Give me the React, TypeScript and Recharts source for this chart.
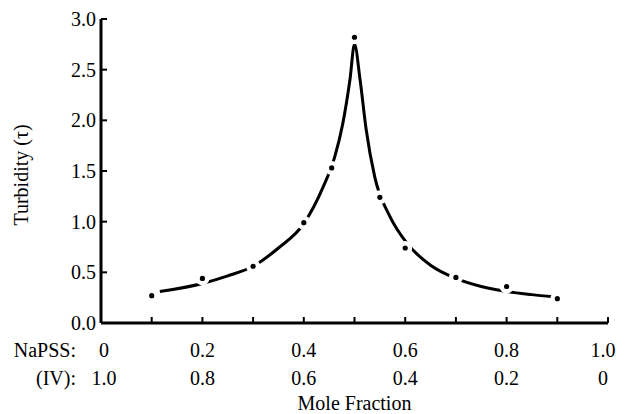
import React from 'react';
import { ComposedChart, Line, Scatter, XAxis, YAxis, Label } from 'recharts';

// Mole fraction axis
const xTicks = [0, 0.1, 0.2, 0.3, 0.4, 0.5, 0.6, 0.7, 0.8, 0.9, 1.0];
const napssLabels = ['0', '0.2', '0.4', '0.6', '0.8', '1.0'];
const ivLabels = ['1.0', '0.8', '0.6', '0.4', '0.2', '0'];

// Turbidity axis
const yTicks = [0, 0.5, 1.0, 1.5, 2.0, 2.5, 3.0];
const yTickLabels = ['0.0', '0.5', '1.0', '1.5', '2.0', '2.5', '3.0'];

// Measured points
const pointX = [0.1, 0.2, 0.3, 0.4, 0.455, 0.5, 0.55, 0.6, 0.7, 0.8, 0.9];
const pointY = [0.27, 0.44, 0.56, 0.99, 1.53, 2.82, 1.24, 0.74, 0.45, 0.36, 0.24];

// Hand-drawn curve
const curveX = [0.116, 0.2, 0.25, 0.3, 0.35, 0.4, 0.438, 0.461, 0.477, 0.491, 0.5, 0.511, 0.523, 0.54, 0.57, 0.603, 0.65, 0.7, 0.75, 0.8, 0.85, 0.892];
const curveY = [0.31, 0.39, 0.465, 0.56, 0.74, 0.98, 1.34, 1.64, 1.97, 2.4, 2.75, 2.4, 1.91, 1.44, 1.05, 0.79, 0.57, 0.44, 0.36, 0.31, 0.28, 0.26];

const pointData = pointX.map((x, i) => ({ x, y: pointY[i] }));
const curveData = curveX.map((x, i) => ({ x, y: curveY[i] }));

const FONT = '"Liberation Serif", "Times New Roman", serif';
const FS = 20;

const YTick = (props: any) => {
  const { x, y, payload } = props;
  const idx = yTicks.indexOf(payload.value);
  return (
    <g>
      <line x1={x} x2={x + 6} y1={y} y2={y} stroke="#000" strokeWidth={2} />
      <text x={x - 5} y={y} dy={7} textAnchor="end" fontFamily={FONT} fontSize={FS} fill="#000">
        {yTickLabels[idx]}
      </text>
    </g>
  );
};

const XTick = (props: any) => {
  const { x, y, payload } = props;
  const i = Math.round(payload.value * 10);
  const shift = i === 0 ? 3 : i === 10 ? -5 : 0;
  return (
    <g>
      <line x1={x} x2={x} y1={y} y2={y - 6} stroke="#000" strokeWidth={2} />
      {i % 2 === 0 && (
        <text x={x + shift} y={y + 34} textAnchor="middle" fontFamily={FONT} fontSize={FS} fill="#000">
          {napssLabels[i / 2]}
        </text>
      )}
      {i % 2 === 0 && (
        <text x={x + shift} y={y + 62} textAnchor="middle" fontFamily={FONT} fontSize={FS} fill="#000">
          {ivLabels[i / 2]}
        </text>
      )}
      {i === 0 && (
        <text x={x - 25} y={y + 34} textAnchor="end" fontFamily={FONT} fontSize={FS} fill="#000">
          NaPSS:
        </text>
      )}
      {i === 0 && (
        <text x={x - 25} y={y + 62} textAnchor="end" fontFamily={FONT} fontSize={FS} fill="#000">
          (IV):
        </text>
      )}
    </g>
  );
};

const PointShape = (props: any) => {
  const { cx, cy } = props;
  return (
    <g>
      <circle cx={cx} cy={cy} r={7} fill="#fff" />
      <circle cx={cx} cy={cy} r={2.6} fill="#000" />
    </g>
  );
};

export default function App() {
  return (
    <div style={{ position: 'absolute', left: 0, top: 0, width: 625, height: 414, background: '#fff' }}>
      <ComposedChart width={625} height={414} margin={{ top: 19, right: 17, left: 0, bottom: 0 }}>
        <XAxis
          type="number"
          dataKey="x"
          domain={[0, 1]}
          ticks={xTicks}
          height={91}
          tickSize={0}
          tickMargin={0}
          tick={<XTick />}
          axisLine={{ stroke: '#000', strokeWidth: 3 }}
          tickLine={false}
          allowDataOverflow
        >
          <Label
            content={(p: any) => {
              const vb = p.viewBox;
              return (
                <text x={vb.x + vb.width / 2} y={410} textAnchor="middle" fontFamily={FONT} fontSize={FS} fill="#000">
                  Mole Fraction
                </text>
              );
            }}
          />
        </XAxis>
        <YAxis
          type="number"
          dataKey="y"
          domain={[0, 3]}
          ticks={yTicks}
          width={101}
          tickSize={0}
          tickMargin={0}
          tick={<YTick />}
          axisLine={{ stroke: '#000', strokeWidth: 3 }}
          tickLine={false}
          allowDataOverflow
        >
          <Label
            content={(p: any) => {
              const vb = p.viewBox;
              const cy = 175;
              return (
                <text
                  x={28}
                  y={cy}
                  transform={`rotate(-90 28 ${cy})`}
                  textAnchor="middle"
                  fontFamily={FONT}
                  fontSize={FS}
                  fill="#000"
                >
                  Turbidity (τ)
                </text>
              );
            }}
          />
        </YAxis>
        <Line
          data={curveData}
          dataKey="y"
          type="monotoneX"
          stroke="#000"
          strokeWidth={3}
          dot={false}
          activeDot={false}
          isAnimationActive={false}
        />
        <Scatter data={pointData} dataKey="y" shape={<PointShape />} isAnimationActive={false} />
      </ComposedChart>
    </div>
  );
}
